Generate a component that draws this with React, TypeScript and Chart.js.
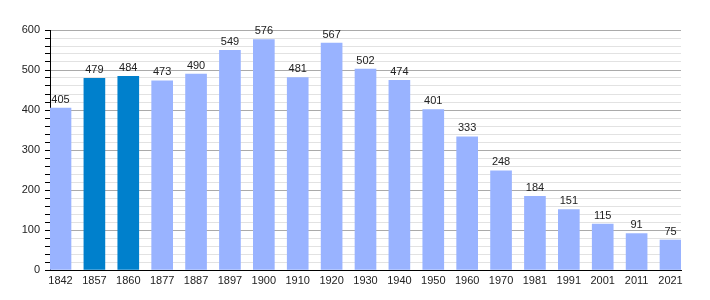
import React, { useEffect, useRef } from "react";
import { Chart, registerables } from "chart.js";

Chart.register(...registerables);

const years = ["1842", "1857", "1860", "1877", "1887", "1897", "1900", "1910", "1920", "1930", "1940", "1950", "1960", "1970", "1981", "1991", "2001", "2011", "2021"];
const population = [405, 479, 484, 473, 490, 549, 576, 481, 567, 502, 474, 401, 333, 248, 184, 151, 115, 91, 75];
const highlighted = ["1857", "1860"];
const yMajorTicks = [0, 100, 200, 300, 400, 500, 600];

const LIGHT = "#99b3ff";
const DARK = "#0080cc";
const FONT = "'Liberation Sans', Arial, sans-serif";

const valueLabels = {
  id: "valueLabels",
  afterDatasetsDraw(chart: any) {
    const ctx = chart.ctx;
    const meta = chart.getDatasetMeta(0);
    ctx.save();
    ctx.font = `11px ${FONT}`;
    ctx.fillStyle = "#222";
    ctx.textAlign = "center";
    ctx.textBaseline = "bottom";
    meta.data.forEach((bar: any, i: number) => {
      ctx.fillText(String(population[i]), bar.x, bar.y - 3);
    });
    ctx.restore();
  },
};

export default function App() {
  const ref = useRef<HTMLCanvasElement | null>(null);
  useEffect(() => {
    document.body.style.margin = "0";
    if (!ref.current) return;
    const chart = new Chart(ref.current, {
      type: "bar",
      data: {
        datasets: [
          {
            data: population.map((v, i) => ({ x: i, y: v })),
            backgroundColor: years.map((y) => (highlighted.includes(y) ? DARK : LIGHT)),
            barThickness: 21,
            borderWidth: 0,
          },
        ],
      },
      options: {
        animation: false,
        responsive: false,
        maintainAspectRatio: false,
        layout: { padding: { top: 30, right: 29, left: 0, bottom: 0 } },
        plugins: { legend: { display: false }, tooltip: { enabled: false } },
        scales: {
          x: {
            type: "linear",
            offset: false,
            min: -0.31,
            max: 18.31,
            afterBuildTicks: (axis: any) => {
              axis.ticks = years.map((_, i) => ({ value: i }));
            },
            afterFit: (axis: any) => {
              axis.height = 30;
            },
            grid: { display: false, drawTicks: false },
            border: { display: true, color: "#000", width: 1 },
            ticks: {
              autoSkip: false,
              maxRotation: 0,
              padding: 4,
              color: "#222",
              font: { family: FONT, size: 11 },
              callback: (v: any) => years[v] ?? "",
            },
          },
          y: {
            min: 0,
            max: 600,
            afterFit: (axis: any) => {
              axis.width = 50;
            },
            grid: {
              color: (c: any) => (yMajorTicks.includes(c.tick?.value) ? "#aaaaaa" : "#e2e2e2"),
              tickColor: "#000",
              tickLength: 5,
            },
            border: { display: true, color: "#000", width: 1 },
            ticks: {
              stepSize: 20,
              autoSkip: false,
              padding: 5,
              color: "#222",
              font: { family: FONT, size: 11 },
              callback: (v: any) => (yMajorTicks.includes(v) ? String(v) : ""),
            },
          },
        },
      },
      plugins: [valueLabels],
    });
    return () => chart.destroy();
  }, []);
  return (
    <div style={{ width: 710, height: 300, background: "#fff" }}>
      <canvas ref={ref} width={710} height={300} style={{ width: 710, height: 300 }} />
    </div>
  );
}
